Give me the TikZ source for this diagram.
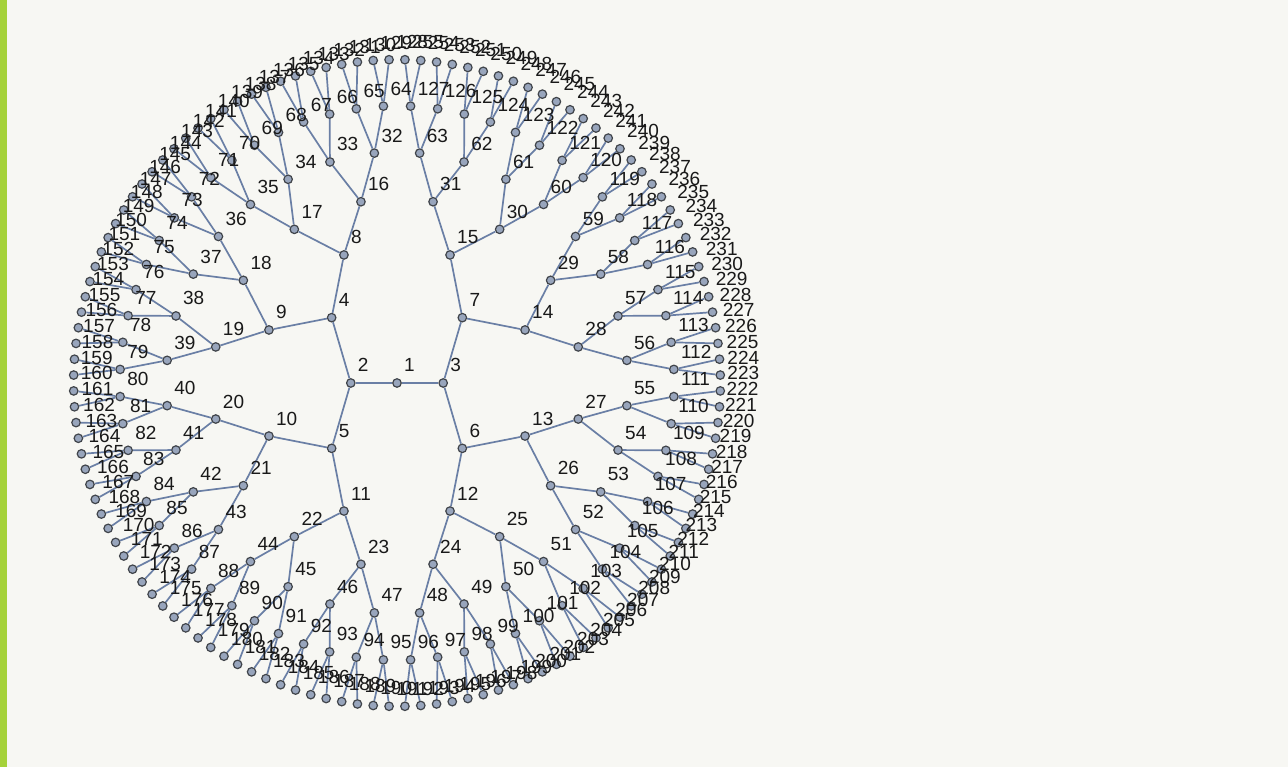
\documentclass[tikz,border=0pt]{standalone}
\usepackage{fontspec}
\setmainfont{Liberation Sans}
\usepackage{tikz}
\usetikzlibrary{positioning}

\definecolor{edgeblue}{HTML}{6A7FA5}
\definecolor{dotfill}{HTML}{98A5BC}
\definecolor{dotline}{HTML}{40444A}
\definecolor{paper}{HTML}{F7F7F3}
\definecolor{barlime}{HTML}{A5D23A}

\begin{document}
\begin{tikzpicture}[
    x=1pt, y=1pt,
    font=\fontsize{19}{19}\selectfont,
    dot/.style={draw=dotline, fill=dotfill, circle, line width=1.2pt,
        minimum size=8.5pt, inner sep=0pt},
    edge/.style={draw=edgeblue, line width=1.7pt},
    lbl/.style={anchor=base west, inner sep=0pt, text=black!90}
]

% Background and side bar
\fill[paper] (-397,-384) rectangle (891,383);
\fill[barlime] (-397,-384) rectangle (-390,383);
\useasboundingbox (-397,-384) rectangle (891,383);

% Tree nodes, level by level, each joined to its parent
\foreach \d in {0,...,7} {
    \pgfmathtruncatemacro\first{2^\d}
    \pgfmathtruncatemacro\last{2*\first-1}
    \pgfmathsetmacro\rad{\d*46.2}
    \foreach \i in {\first,...,\last} {
        \pgfmathsetmacro\ang{90+(\i-\first+0.5)/\first*360}
        \node[dot] (n\i) at (\ang:\rad) {};
        \ifnum\i>1
            \pgfmathtruncatemacro\up{\i/2}
            \draw[edge] (n\up) -- (n\i);
        \fi
    }
}

% Labels
\foreach \i in {1,...,255} {
    \node[lbl] (t\i) at ([shift={(7,11)}]n\i.center) {\i};
}

\end{tikzpicture}
\end{document}
